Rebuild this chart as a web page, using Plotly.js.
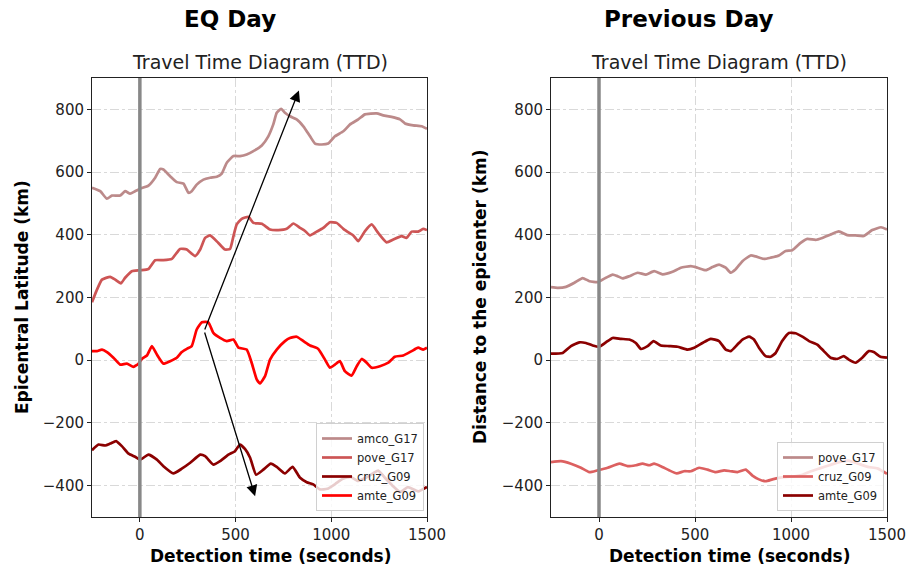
<!DOCTYPE html>
<html><head><meta charset="utf-8">
<script src="https://cdn.plot.ly/plotly-3.0.1.min.js"></script>
<style>html,body{margin:0;padding:0;background:#fff}#chart{width:910px;height:576px}</style>
</head><body><div id="chart"></div>
<script>
// ---- EQ Day (left) ----
const eqAmcoT = [-250,-207,-172,-146,-103,-77,-51,-25,2,45,80,106,123,158,193,228,254,271,297,332,367,402,428,454,489,523,558,593,637,671,697,715,738,758,784,819,854,889,915,950,984,1019,1063,1098,1141,1176,1237,1271,1315,1359,1385,1428,1472,1500];
const eqAmcoD = [550,539,515,525,525,539,531,539,547,557,582,610,608,587,568,563,534,539,560,576,582,585,595,630,651,651,656,667,685,714,752,789,802,789,778,768,746,714,691,688,691,714,730,752,768,784,787,781,776,768,755,749,746,738];

const eqPoveT = [-250,-224,-198,-155,-129,-99,-77,-42,2,45,80,123,167,210,245,289,315,341,367,410,445,471,489,506,532,567,593,637,680,723,767,802,837,863,889,924,958,993,1028,1063,1094,1115,1141,1176,1211,1245,1289,1324,1367,1393,1420,1454,1480,1500];
const eqPoveD = [185,225,257,266,257,245,263,284,287,291,319,319,323,355,353,332,353,390,398,374,353,355,396,433,451,457,438,435,417,415,419,436,422,412,398,410,422,440,438,419,406,398,380,412,433,406,376,385,396,390,410,410,419,415];

const eqCruzT = [-250,-216,-181,-155,-124,-94,-59,-25,2,45,89,123,175,219,263,315,341,384,419,463,497,523,549,576,607,645,684,715,758,798,837,872,906,941,980,1020,1060,1100,1140,1180,1220,1245,1280,1320,1360,1400,1454,1500];
const eqCruzD = [-287,-269,-272,-266,-258,-274,-298,-308,-317,-301,-317,-338,-361,-346,-327,-301,-306,-333,-322,-301,-290,-269,-283,-311,-365,-349,-330,-340,-361,-340,-375,-389,-396,-412,-410,-395,-378,-372,-385,-375,-360,-352,-375,-400,-420,-405,-418,-404];

const eqAmteT = [-250,-224,-198,-172,-138,-103,-68,-33,-7,10,37,63,89,123,158,193,219,245,271,297,324,358,384,419,454,489,515,558,584,611,628,654,680,715,758,784,819,854,889,932,967,993,1019,1045,1071,1106,1133,1159,1185,1211,1254,1298,1332,1376,1420,1454,1480,1500];
const eqAmteD = [29,29,34,26,8,-14,-11,-21,-11,4,15,45,18,-11,-3,8,26,36,45,98,121,121,87,71,61,66,40,34,-8,-62,-74,-51,2,34,61,71,75,61,47,36,2,-24,-14,-3,-35,-49,-19,4,-8,-24,-19,-8,11,15,29,40,34,40];

// ---- Previous Day (right) ----
const pdPoveT = [-250,-215,-172,-128,-85,-50,-7,36,71,97,123,158,201,244,287,331,383,426,478,513,556,591,625,660,686,712,747,790,816,859,894,937,972,1007,1050,1085,1128,1163,1206,1249,1293,1336,1379,1423,1469,1500];
const pdPoveD = [233,231,234,247,262,252,249,263,273,268,261,268,279,273,284,274,282,295,300,295,287,297,305,295,279,290,316,334,331,323,327,334,348,351,374,387,384,390,401,411,399,398,396,415,424,417];

const pdCruzT = [-250,-198,-146,-94,-50,-7,45,106,149,192,227,262,287,322,365,405,443,478,521,565,608,652,686,721,764,799,833,868,903,937,980,1020,1060,1100,1150,1200,1250,1300,1350,1400,1450,1480,1500];
const pdCruzD = [-325,-322,-330,-343,-357,-351,-343,-330,-338,-335,-330,-335,-330,-338,-351,-361,-354,-354,-343,-349,-357,-351,-354,-357,-349,-368,-380,-386,-380,-375,-372,-370,-365,-355,-345,-335,-325,-320,-330,-340,-345,-355,-362];

const pdAmteT = [-250,-189,-146,-102,-68,-33,2,36,71,114,158,192,218,253,284,322,365,409,461,496,539,582,625,660,686,721,747,782,807,833,868,894,920,954,989,1024,1059,1094,1137,1171,1206,1241,1275,1301,1336,1371,1405,1431,1466,1500];
const pdAmteD = [21,23,45,57,55,47,43,57,71,68,66,55,36,45,61,47,45,43,34,40,55,68,61,34,29,50,66,75,66,40,13,11,23,61,87,86,75,61,50,29,8,4,13,2,-8,8,29,26,11,8];

const xTicks = [0,500,1000,1500];
const yTicks = [-400,-200,0,200,400,600,800];

const FONT = 'DejaVu Sans, sans-serif';
function tr(x,y,name,color,xa,ya,leg){
  return {x:x,y:y,name:name,type:'scatter',mode:'lines',xaxis:xa,yaxis:ya,legend:leg,
    line:{color:color,width:2.7,shape:'spline',smoothing:0.45}};
}
const data = [
  tr(eqAmcoT,eqAmcoD,'amco_G17','#bc8a8a','x','y','legend'),
  tr(eqPoveT,eqPoveD,'pove_G17','#cd5555','x','y','legend'),
  tr(eqCruzT,eqCruzD,'cruz_G09','#8b0000','x','y','legend'),
  tr(eqAmteT,eqAmteD,'amte_G09','#ff0000','x','y','legend'),
  tr(pdPoveT,pdPoveD,'pove_G17','#bc8a8a','x2','y2','legend2'),
  tr(pdCruzT,pdCruzD,'cruz_G09','#dc6060','x2','y2','legend2'),
  tr(pdAmteT,pdAmteD,'amte_G09','#8b0000','x2','y2','legend2')
];
function xax(dom){return {domain:dom,range:[-250,1500],tickvals:xTicks,ticktext:xTicks.map(String),
  showline:true,mirror:true,linecolor:'#222',linewidth:1,ticks:'outside',ticklen:4,tickcolor:'#222',
  showgrid:true,gridcolor:'#cfcfcf',griddash:'dashdot',gridwidth:0.8,zeroline:false,
  tickfont:{family:FONT,size:15,color:'#222'}};}
function yax(dom,anchor){return {domain:dom,range:[-500,900],tickvals:yTicks,anchor:anchor,
  showline:true,mirror:true,linecolor:'#222',linewidth:1,ticks:'outside',ticklen:4,tickcolor:'#222',
  showgrid:true,gridcolor:'#cfcfcf',griddash:'dashdot',gridwidth:0.8,zeroline:false,
  tickfont:{family:FONT,size:15,color:'#222'}};}
const yd=[1-517/576,1-78/576];
const legBase = {xref:'paper',yref:'paper',xanchor:'right',yanchor:'bottom',bgcolor:'rgba(255,255,255,0.8)',
  bordercolor:'#d0d0d0',borderwidth:1,font:{family:FONT,size:11.5,color:'#222'},tracegroupgap:0,itemwidth:30};
function ann(text,x,y,size,color,angle){return {text:text,xref:'paper',yref:'paper',x:x/910,y:1-y/576,
  xanchor:'center',yanchor:'middle',showarrow:false,textangle:angle||0,font:{family:FONT,size:size,color:color}};}
const layout = {
  width:910,height:576,margin:{l:0,r:0,t:0,b:0},paper_bgcolor:'#fff',plot_bgcolor:'#fff',
  xaxis:Object.assign(xax([92/910,427/910]),{anchor:'y'}),
  yaxis:yax(yd,'x'),
  xaxis2:Object.assign(xax([551/910,887/910]),{anchor:'y2'}),
  yaxis2:yax(yd,'x2'),
  legend:Object.assign({},legBase,{x:424/910,y:1-511/576}),
  legend2:Object.assign({},legBase,{x:884/910,y:1-511/576}),
  showlegend:true,
  shapes:[
    {type:'line',xref:'x',yref:'y domain',x0:0,x1:0,y0:0,y1:1,line:{color:'#888',width:3.5},layer:'above'},
    {type:'line',xref:'x2',yref:'y2 domain',x0:0,x1:0,y0:0,y1:1,line:{color:'#888',width:3.5},layer:'above'}
  ],
  annotations:[
    ann('<b>EQ Day</b>',230,19,23,'#000'),
    ann('<b>Previous Day</b>',688,19,23,'#000'),
    ann('Travel Time Diagram (TTD)',259.5,62,19,'#222'),
    ann('Travel Time Diagram (TTD)',719,62,19,'#222'),
    ann('<b>Detection time (seconds)</b>',270,556,17,'#000'),
    ann('<b>Detection time (seconds)</b>',729,556,17,'#000'),
    ann('<b>Epicentral Latitude (km)</b>',22,297,17,'#000',-90),
    ann('<b>Distance to the epicenter (km)</b>',480,297,17,'#000',-90),
    {text:'',xref:'x',yref:'y',axref:'x',ayref:'y',x:831,y:860,ax:336,ay:93,showarrow:true,arrowhead:2,arrowsize:1.7,arrowwidth:1.3,arrowcolor:'#000'},
    {text:'',xref:'x',yref:'y',axref:'x',ayref:'y',x:602,y:-434,ax:336,ay:93,showarrow:true,arrowhead:2,arrowsize:1.7,arrowwidth:1.3,arrowcolor:'#000'}
  ]
};
Plotly.newPlot('chart',data,layout,{displayModeBar:false,staticPlot:true});
</script></body></html>
